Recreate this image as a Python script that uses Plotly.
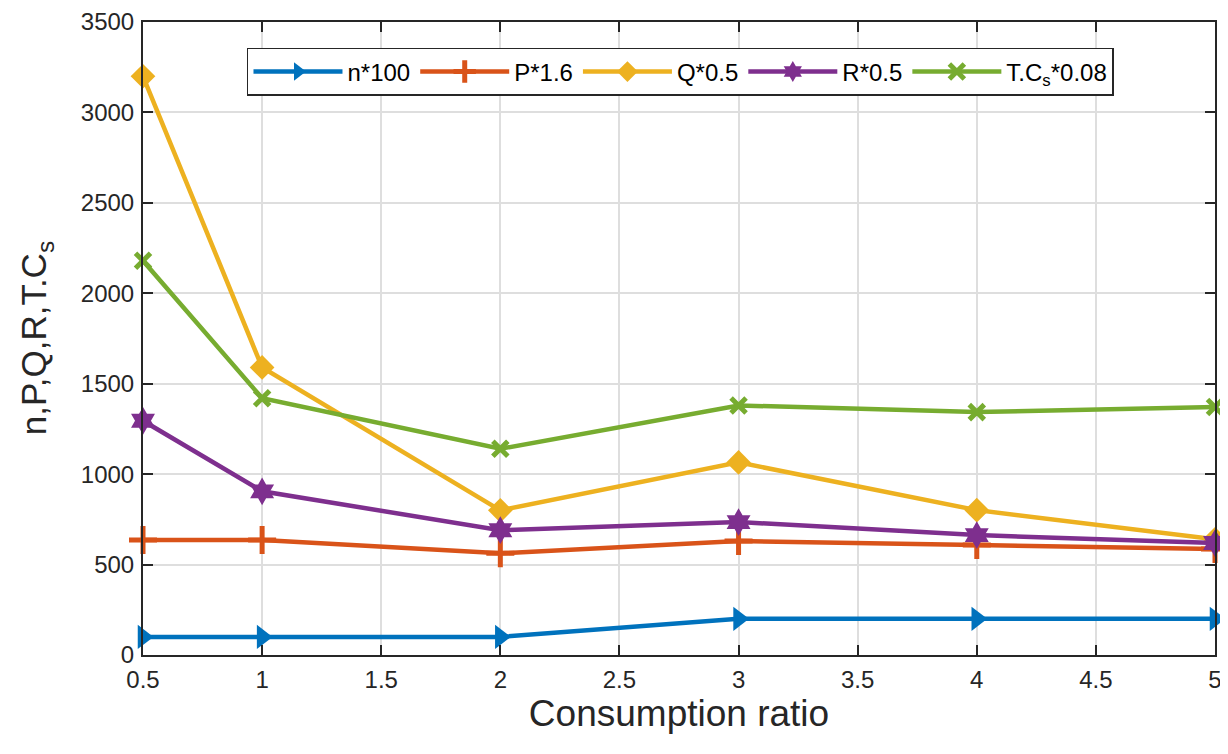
import plotly.graph_objects as go

x = [0.5, 1, 2, 3, 4, 5]
n100 = [100, 100, 100, 200, 200, 200]
p16 = [636, 636, 562, 630, 608, 586]
q05 = [3200, 1590, 800, 1065, 801, 640]
r05 = [1295, 905, 690, 735, 663, 619]
tcs008 = [2180, 1420, 1140, 1380, 1343, 1371]

names = ["n*100", "P*1.6", "Q*0.5", "R*0.5", "T.C<sub>s</sub>*0.08"]
colors = ["#0072BD", "#D95319", "#EDB120", "#7E2F8E", "#77AC30"]
symbols = ["triangle-right", "cross-thin", "diamond", "hexagram", "x-thin"]
sizes = [21, 20, 19, 21, 15]
series = [n100, p16, q05, r05, tcs008]

FONT = "Liberation Sans, Arial, Helvetica, sans-serif"

fig = go.Figure()
for name, c, s, sz, y in zip(names, colors, symbols, sizes, series):
    fig.add_trace(go.Scatter(
        x=x, y=y, name=name, mode="lines+markers",
        line=dict(color=c, width=4.5),
        marker=dict(symbol=s, size=sz, color=c,
                    line=dict(color=c, width=5 if "thin" in s else 0)),
        cliponaxis=False,
    ))

axis_common = dict(
    showgrid=True, gridcolor="#dedede", gridwidth=1.5,
    showline=True, linecolor="#262626", linewidth=2, mirror="ticks",
    ticks="inside", ticklen=10, tickwidth=2, tickcolor="#262626",
    tickfont=dict(family=FONT, size=24, color="#262626"),
    zeroline=False, automargin=False, ticklabeloverflow="allow",
)
fig.update_xaxes(range=[0.5, 5], tickvals=[0.5, 1, 1.5, 2, 2.5, 3, 3.5, 4, 4.5, 5],
                 ticktext=["0.5", "1", "1.5", "2", "2.5", "3", "3.5", "4", "4.5", "5"],
                 ticklabelstandoff=2,
                 title=dict(text="Consumption ratio",
                            font=dict(family=FONT, size=37, color="#262626"), standoff=0),
                 **axis_common)
fig.update_yaxes(range=[0, 3500], tickvals=list(range(0, 3501, 500)),
                 ticklabelstandoff=2,
                 **axis_common)

fig.add_annotation(
    text="n,P,Q,R,T.C<sub>s</sub>", textangle=-90,
    xref="paper", yref="paper", x=-0.1, y=0.5,
    xanchor="center", yanchor="middle", showarrow=False,
    font=dict(family=FONT, size=35, color="#262626"),
)

fig.update_layout(
    width=1220, height=734,
    margin=dict(l=135, r=13, t=14, b=87),
    plot_bgcolor="white", paper_bgcolor="white",
    legend=dict(
        orientation="h", x=0.097, y=0.959, xanchor="left", yanchor="top",
        bgcolor="white", bordercolor="#262626", borderwidth=1.5,
        font=dict(family=FONT, size=24, color="#000000"),
        itemwidth=89,
    ),
    showlegend=True,
)
fig.write_html("out.html")
